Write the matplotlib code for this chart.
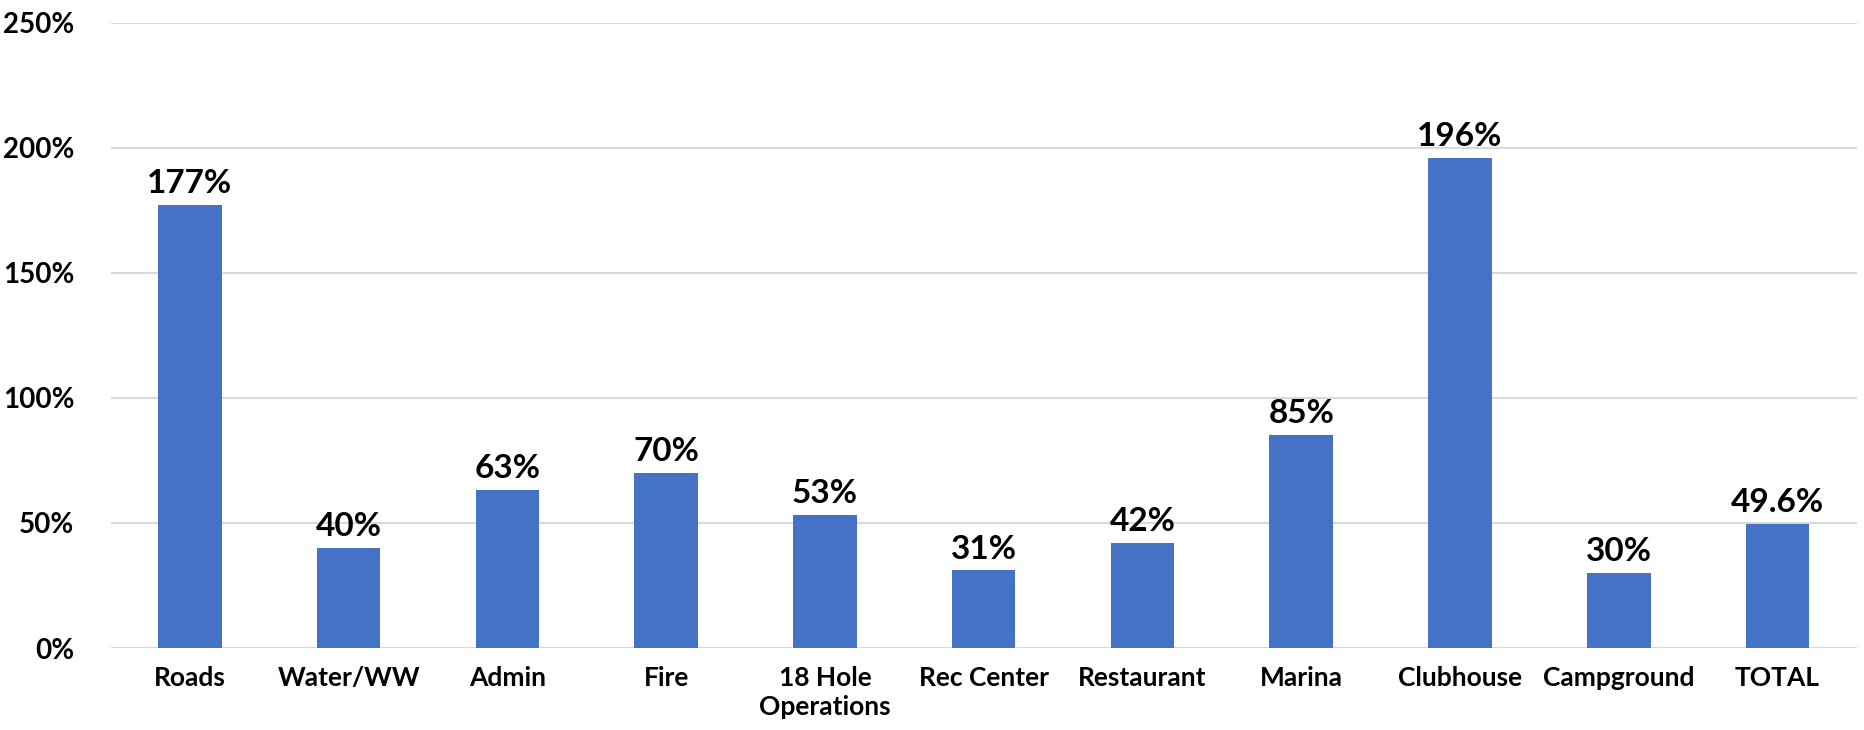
import numpy as np
import matplotlib.pyplot as plt
from matplotlib.ticker import PercentFormatter

# 数据
categories = ['Roads', 'Water/WW', 'Admin', 'Fire', '18 Hole\nOperations', 'Rec Center',
              'Restaurant', 'Marina', 'Clubhouse', 'Campground', 'TOTAL']
values = [177, 40, 63, 70, 53, 31, 42, 85, 196, 30, 49.6]
value_labels = ['177%', '40%', '63%', '70%', '53%', '31%', '42%', '85%', '196%', '30%', '49.6%']

plt.rcParams['font.family'] = ['Lato', 'DejaVu Sans']
plt.rcParams['font.weight'] = 'bold'

fig = plt.figure(figsize=(18.64, 7.3), dpi=100)
ax = fig.add_axes([0.0593, 0.1123, 0.9369, 0.8567])

x = np.arange(len(categories))
bars = ax.bar(x, values, width=0.4, color='#4472C4', zorder=3)

# 柱顶数值
for b, lab in zip(bars, value_labels):
    ax.annotate(lab, (b.get_x() + b.get_width() / 2, b.get_height()),
                xytext=(0, 5), textcoords='offset points',
                ha='center', va='bottom', fontsize=24, fontweight='bold')

ax.set_xlim(-0.5, len(categories) - 0.5)
ax.set_ylim(0, 250)
ax.set_yticks(np.arange(0, 251, 50))
ax.yaxis.set_major_formatter(PercentFormatter(decimals=0))
ax.set_xticks(x)
ax.set_xticklabels(categories, fontsize=19, fontweight='bold', linespacing=1.25)
ax.tick_params(axis='y', labelsize=20, length=0, pad=26)
ax.tick_params(axis='x', length=0, pad=13)
for t in ax.get_yticklabels():
    t.set_fontweight('bold')

ax.grid(axis='y', color='#d9d9d9', linewidth=1.5, zorder=0)
for s in ax.spines.values():
    s.set_visible(False)

plt.savefig('out.png', dpi=100)
